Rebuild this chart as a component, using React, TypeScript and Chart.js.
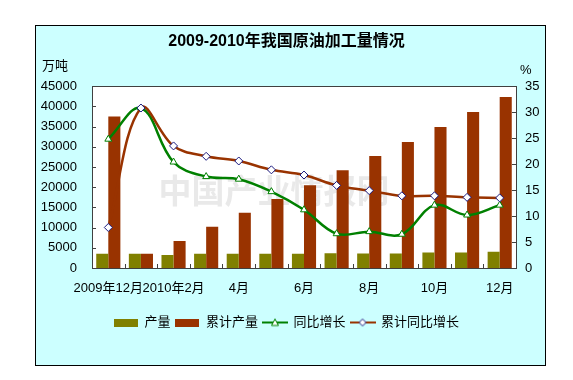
import React, { useEffect, useRef } from 'react';
import { Chart, registerables } from 'chart.js';
Chart.register(...registerables);

const categories = ['2009年12月', '2010年1月', '2010年2月', '3月', '4月', '5月', '6月', '7月', '8月', '9月', '10月', '11月', '12月'];
const tickLabels = ['2009年12月', '', '2010年2月', '', '4月', '', '6月', '', '8月', '', '10月', '', '12月'];
const output = [3550, 3500, 3200, 3550, 3500, 3550, 3550, 3650, 3600, 3600, 3850, 3850, 4050];
const cumulative = [37500, 3500, 6700, 10200, 13700, 17100, 20500, 24200, 27700, 31200, 34900, 38600, 42300];
const yoy = [24.8, 30.8, 20.4, 17.6, 17.1, 14.7, 11.2, 6.6, 7.0, 6.5, 12.1, 10.2, 12.1];
const cumYoy = [7.8, 30.8, 23.5, 21.5, 20.6, 18.9, 17.9, 15.9, 14.9, 13.9, 13.9, 13.6, 13.5];
const seriesNames = ['产量', '累计产量', '同比增长', '累计同比增长'];
const titleText = '2009-2010年我国原油加工量情况';
const leftUnit = '万吨';
const rightUnit = '%';
const watermark = '中国产业情报网';

const FONT = '"Liberation Sans", "Noto Sans CJK SC", sans-serif';
const OLIVE = '#808000';
const BROWN = '#993300';
const GREEN = '#008000';
const NAVY = '#1a1a80';

function boxIcon(color: string) {
  const c = document.createElement('canvas');
  c.width = 24; c.height = 8;
  const g = c.getContext('2d')!;
  g.fillStyle = color; g.fillRect(0, 0, 24, 8);
  return c;
}
function lineIcon(color: string, marker: 'tri' | 'dia', mColor: string) {
  const c = document.createElement('canvas');
  c.width = 26; c.height = 10;
  const g = c.getContext('2d')!;
  g.strokeStyle = color; g.lineWidth = 2;
  g.beginPath(); g.moveTo(0, 5); g.lineTo(26, 5); g.stroke();
  g.fillStyle = '#fff'; g.strokeStyle = mColor; g.lineWidth = 1;
  g.beginPath();
  if (marker === 'tri') { g.moveTo(13, 1.5); g.lineTo(16.5, 8); g.lineTo(9.5, 8); }
  else { g.moveTo(13, 1.5); g.lineTo(16.5, 5); g.lineTo(13, 8.5); g.lineTo(9.5, 5); }
  g.closePath(); g.fill(); g.stroke();
  return c;
}

const framePlugin = {
  id: 'frame',
  beforeDraw(chart: any) {
    const { ctx, chartArea: a } = chart;
    ctx.save();
    ctx.fillStyle = '#ffffff';
    ctx.fillRect(0, 0, chart.width, chart.height);
    ctx.fillStyle = '#CCFFFF';
    ctx.fillRect(35, 25, 511, 341);
    ctx.strokeStyle = '#000';
    ctx.lineWidth = 1;
    ctx.strokeRect(35.5, 25.5, 510, 340);
    ctx.fillStyle = '#ffffff';
    ctx.fillRect(a.left, a.top, a.right - a.left, a.bottom - a.top);
    ctx.restore();
  },
  beforeDatasetsDraw(chart: any) {
    const { ctx, chartArea: a } = chart;
    ctx.save();
    ctx.font = 'bold 33px "Noto Sans CJK SC", sans-serif';
    ctx.fillStyle = 'rgba(200,200,200,0.4)';
    ctx.textAlign = 'center';
    ctx.textBaseline = 'middle';
    ctx.fillText(watermark, (a.left + a.right) / 2 - 30, 190);
    ctx.restore();
  },
  afterDraw(chart: any) {
    const { ctx, chartArea: a, scales } = chart;
    ctx.save();
    ctx.strokeStyle = '#404040';
    ctx.lineWidth = 1;
    ctx.strokeRect(Math.round(a.left) + 0.5, Math.round(a.top) + 0.5, Math.round(a.right - a.left), Math.round(a.bottom - a.top));
    ctx.beginPath();
    const yl = scales.y, yr = scales.y1, x = scales.x;
    yl.ticks.forEach((t: any) => {
      const p = Math.round(yl.getPixelForValue(t.value)) + 0.5;
      ctx.moveTo(a.left, p); ctx.lineTo(a.left + 4, p);
    });
    yr.ticks.forEach((t: any) => {
      const p = Math.round(yr.getPixelForValue(t.value)) + 0.5;
      ctx.moveTo(a.right, p); ctx.lineTo(a.right - 4, p);
    });
    for (let i = 0; i <= categories.length; i++) {
      const p = Math.round(x.getPixelForValue(i - 0.5)) + 0.5;
      ctx.moveTo(p, a.bottom); ctx.lineTo(p, a.bottom - 4);
    }
    ctx.stroke();
    ctx.fillStyle = '#000';
    ctx.font = '13px ' + FONT;
    ctx.textBaseline = 'middle';
    ctx.textAlign = 'left';
    ctx.fillText(leftUnit, 42, 66);
    ctx.fillText(rightUnit, 520, 70);
    ctx.restore();
  },
};

export default function App() {
  const ref = useRef<HTMLCanvasElement>(null);
  useEffect(() => {
    const icons = [boxIcon(OLIVE), boxIcon(BROWN), lineIcon(GREEN, 'tri', GREEN), lineIcon(BROWN, 'dia', NAVY)];
    const chart = new Chart(ref.current!, {
      type: 'bar',
      data: {
        labels: categories,
        datasets: [
          { type: 'bar', label: seriesNames[0], data: output, backgroundColor: OLIVE, yAxisID: 'y', order: 3, barPercentage: 1, categoryPercentage: 0.74 },
          { type: 'bar', label: seriesNames[1], data: cumulative, backgroundColor: BROWN, yAxisID: 'y', order: 3, barPercentage: 1, categoryPercentage: 0.74 },
          { type: 'line', label: seriesNames[2], data: yoy, borderColor: GREEN, borderWidth: 2.5, backgroundColor: '#fff', yAxisID: 'y1', order: 2, tension: 0.38, pointStyle: 'triangle', pointRadius: 4, pointBorderColor: GREEN, pointBackgroundColor: '#fff', pointBorderWidth: 1 } as any,
          { type: 'line', label: seriesNames[3], data: cumYoy, borderColor: BROWN, borderWidth: 2.5, backgroundColor: '#fff', yAxisID: 'y1', order: 1, tension: 0.38, pointStyle: 'rectRot', pointRadius: 4, pointBorderColor: NAVY, pointBackgroundColor: '#fff', pointBorderWidth: 1 } as any,
        ],
      },
      options: {
        responsive: false,
        devicePixelRatio: 1,
        animation: false,
        layout: { padding: { left: 0, right: 0, top: 0, bottom: 41 } },
        plugins: {
          title: { display: true, text: titleText, color: '#000', font: { size: 16, weight: 'bold', family: FONT }, padding: { top: 32, bottom: 35 } },
          legend: {
            position: 'bottom',
            labels: {
              usePointStyle: true,
              pointStyleWidth: 24,
              padding: 5,
              color: '#000',
              font: { size: 13, family: FONT },
              generateLabels: () => seriesNames.map((n, i) => ({ text: n, pointStyle: icons[i], datasetIndex: i, fillStyle: '#fff', strokeStyle: '#fff', lineWidth: 0, hidden: false, fontColor: '#000' } as any)),
            },
          },
          tooltip: { enabled: false },
        },
        scales: {
          x: {
            grid: { display: false, drawTicks: false },
            border: { display: false },
            ticks: { autoSkip: false, maxRotation: 0, minRotation: 0, padding: 13, color: '#000', font: { size: 13, family: FONT }, callback: (_v: any, i: number) => tickLabels[i] },
            afterFit: (s: any) => { s.height = 43; },
          },
          y: {
            position: 'left', min: 0, max: 45000,
            grid: { display: false, drawTicks: false },
            border: { display: false },
            ticks: { stepSize: 5000, padding: 15, color: '#000', font: { size: 13, family: FONT }, callback: (v: any) => String(v) },
            afterFit: (s: any) => { s.width = 92; },
          },
          y1: {
            position: 'right', min: 0, max: 35,
            grid: { display: false, drawTicks: false },
            border: { display: false },
            ticks: { stepSize: 5, padding: 9, color: '#000', font: { size: 13, family: FONT }, callback: (v: any) => String(v) },
            afterFit: (s: any) => { s.width = 57; },
          },
        },
      },
      plugins: [framePlugin],
    } as any);
    return () => chart.destroy();
  }, []);
  return (
    <div style={{ position: 'absolute', left: 0, top: 0, width: 573, height: 380 }}>
      <canvas ref={ref} width={573} height={380} style={{ display: 'block', width: 573, height: 380 }} />
    </div>
  );
}
